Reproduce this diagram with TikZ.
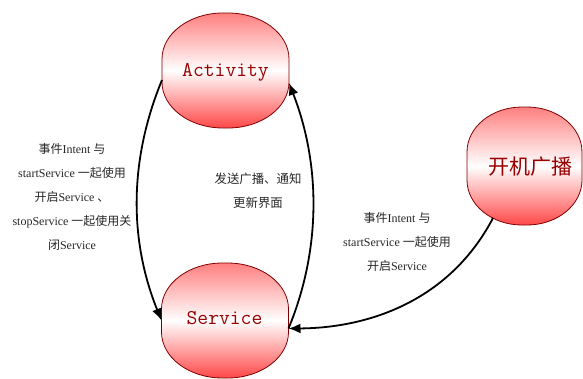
\documentclass[tikz,border=0pt]{standalone}
\usepackage{fontspec}
\setmainfont{Liberation Serif}
\newfontfamily\cjk{Noto Sans CJK SC}
\usetikzlibrary{arrows.meta}
\newcommand\rbox[5]{%
 \path[statebox, shift={(#1.center)}]
   (-#2,{-#3+#5}) .. controls (-#2,{-#3+0.448*#5}) and ({-#2+0.448*#4},-#3) .. ({-#2+#4},-#3)
   -- ({#2-#4},-#3) .. controls ({#2-0.448*#4},-#3) and (#2,{-#3+0.448*#5}) .. (#2,{-#3+#5})
   -- (#2,{#3-#5}) .. controls (#2,{#3-0.448*#5}) and ({#2-0.448*#4},#3) .. ({#2-#4},#3)
   -- ({-#2+#4},#3) .. controls ({-#2+0.448*#4},#3) and (-#2,{#3-0.448*#5}) .. (-#2,{#3-#5})
   -- cycle;}
\begin{document}
\begin{tikzpicture}[x=1pt,y=-1pt,
  boxnode/.style={minimum width=127pt, minimum height=115pt, inner sep=0pt, outer sep=0pt},
  statebox/.style={draw=red!50!black, line width=0.8pt,
    top color=red!50, bottom color=red!72, middle color=white},
  latinlab/.style={text=red!60!black, font=\ttfamily\fontsize{21}{21}\selectfont},
  cjklab/.style={text=red!60!black, font=\cjk\fontsize{21}{21}\selectfont},
  conn/.style={line width=1.8pt, -{Latex[length=12pt,width=10pt]}},
  lab/.style={align=center, font=\fontsize{12}{24}\selectfont, text=black!85, inner sep=0pt}
]
\useasboundingbox (0,0) rectangle (583,378);
\node[boxnode] (act) at (225.5,70.5) {};
\node[boxnode] (svc) at (225,320.5) {};
\node[boxnode, minimum width=115pt, minimum height=118pt] (boot) at (524.5,166) {};
\rbox{act}{63.5}{57.5}{61}{46}
\rbox{svc}{63.5}{57.5}{61}{46}
\rbox{boot}{57.5}{59}{55}{45}
\node[latinlab] (actT) at (225.5,72) {Activity};
\node[latinlab] (svcT) at (224.5,318) {Service};
\node[cjklab] (bootT) at (530,167) {开机广播};

\draw[conn] ([yshift=-9.5pt]act.west) .. controls (129,160) and (129,240) .. (svc.west);
\draw[conn] ([yshift=-8pt]svc.east) .. controls (321,250) and (321,165) .. ([yshift=-12.5pt]act.east);
\draw[conn] ([xshift=-31.5pt,yshift=-52pt]boot.center) .. controls (450,300) and (370,328) .. ([yshift=-8pt]svc.east);

\node[lab] (l1) at (72,197) {{\cjk 事件}Intent {\cjk 与}\\startService {\cjk 一起使用}\\{\cjk 开启}Service {\cjk 、}\\stopService {\cjk 一起使用关}\\{\cjk 闭}Service};
\node[lab, font=\cjk\fontsize{12.4}{24}\selectfont] (l2) at (258,191) {发送广播、通知\\更新界面};
\node[lab] (l3) at (397,241.5) {{\cjk 事件}Intent {\cjk 与}\\startService {\cjk 一起使用}\\{\cjk 开启}Service};
\end{tikzpicture}
\end{document}
